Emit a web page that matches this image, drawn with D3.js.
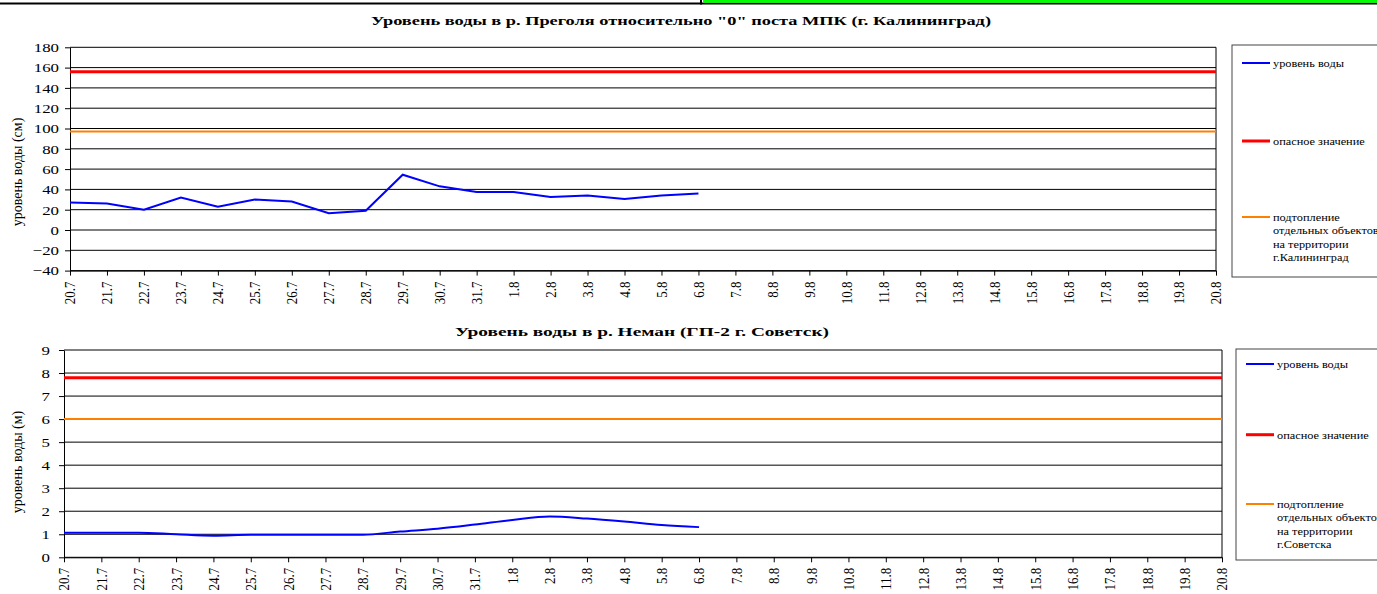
<!DOCTYPE html>
<html>
<head>
<meta charset="utf-8">
<script src="https://cdn.jsdelivr.net/npm/d3@7"></script>
<style>
  body { margin: 0; background: #fff; }
  svg { display: block; }
  svg text { font-family: "Liberation Serif", "Times New Roman", "DejaVu Serif", serif !important; fill: #000; }
</style>
</head>
<body>
<div id="chart"></div>
<script>
// Dates (categories)
var dates = ["20.7", "21.7", "22.7", "23.7", "24.7", "25.7", "26.7", "27.7", "28.7", "29.7",
    "30.7", "31.7", "1.8", "2.8", "3.8", "4.8", "5.8", "6.8", "7.8", "8.8", "9.8", "10.8",
    "11.8", "12.8", "13.8", "14.8", "15.8", "16.8", "17.8", "18.8", "19.8", "20.8"];

// Pregolya, Kaliningrad (cm)
var pregolyaLevel = [27, 26, 20, 32, 23, 30, 28, 16.5, 19, 54.5, 43, 37.5, 37.5, 32.5, 34, 30.5, 34, 36];
var pregolyaDanger = 156;
var pregolyaFlood = 97;
var pregolyaTicks = [-40, -20, 0, 20, 40, 60, 80, 100, 120, 140, 160, 180];

// Neman, Sovetsk (m)
var nemanLevel = [1.07, 1.07, 1.07, 1.0, 0.94, 0.98, 0.98, 0.98, 0.98, 1.12, 1.24, 1.42, 1.62, 1.77, 1.68, 1.55, 1.4, 1.31];
var nemanDanger = 7.8;
var nemanFlood = 6.0;
var nemanTicks = [0, 1, 2, 3, 4, 5, 6, 7, 8, 9];

var W = 1377, H = 594;
var sx = 1.25; // horizontal stretch of the original text
var serif = "'Liberation Serif', 'Times New Roman', serif";

var svg = d3.select("#chart")
    .append("svg")
    .attr("width", W)
    .attr("height", H)
    .style("font-family", serif);

// strip at the very top
svg.append("rect").attr("x", 0).attr("y", 2.5).attr("width", W).attr("height", 2).attr("fill", "#000");
svg.append("rect").attr("x", 703).attr("y", 0).attr("width", W - 703).attr("height", 2.8).attr("fill", "#00ff00");
svg.append("rect").attr("x", 700).attr("y", 0).attr("width", 2).attr("height", 4.5).attr("fill", "#000");

function drawChart(cfg) {
    var x = d3.scalePoint().domain(dates).range([cfg.left, cfg.right]);
    var y = d3.scaleLinear().domain([cfg.ticks[0], cfg.ticks[cfg.ticks.length - 1]])
        .range([cfg.bottom, cfg.top]);

    var g = svg.append("g");

    // title
    g.append("text")
        .attr("x", cfg.titleX)
        .attr("y", cfg.titleY)
        .attr("text-anchor", "middle")
        .attr("font-size", "13.5px")
        .attr("font-weight", "bold")
        .attr("textLength", cfg.titleW)
        .attr("lengthAdjust", "spacingAndGlyphs")
        .style("font-family", serif)
        .text(cfg.title);

    // gridlines
    g.selectAll(".grid")
        .data(cfg.ticks)
        .enter().append("line")
        .attr("x1", cfg.left)
        .attr("x2", cfg.right)
        .attr("y1", function (d) { return y(d); })
        .attr("y2", function (d) { return y(d); })
        .attr("stroke", "#000")
        .attr("stroke-width", 1);

    // right border
    g.append("line")
        .attr("x1", cfg.right).attr("x2", cfg.right)
        .attr("y1", cfg.top).attr("y2", cfg.bottom)
        .attr("stroke", "#000");

    // y axis
    var yAxis = g.append("g")
        .attr("transform", "translate(" + cfg.left + ",0)")
        .call(d3.axisLeft(y).tickValues(cfg.ticks).tickSize(5).tickPadding(cfg.yPad).tickSizeOuter(0));
    yAxis.attr("font-family", null);
    yAxis.select(".domain").attr("stroke", "#000");
    yAxis.selectAll("line").attr("stroke", "#000");
    yAxis.selectAll("text")
        .style("font-family", serif)
        .attr("font-size", "13.5px")
        .attr("x", -(5 + cfg.yPad) / sx)
        .attr("transform", "scale(" + sx + ",1)");

    // x axis
    var xAxis = g.append("g")
        .attr("transform", "translate(0," + cfg.bottom + ")")
        .call(d3.axisBottom(x).tickSize(5).tickSizeOuter(0));
    xAxis.attr("font-family", null);
    xAxis.select(".domain").attr("stroke", "#000");
    xAxis.selectAll("line").attr("stroke", "#000");
    xAxis.selectAll("text")
        .style("font-family", serif)
        .attr("font-size", "13px")
        .attr("text-anchor", "end")
        .attr("x", -cfg.xPad)
        .attr("y", 0)
        .attr("dy", "0.33em")
        .attr("transform", "scale(1.15,1) rotate(-90)");

    // y axis title
    g.append("text")
        .attr("transform", "translate(" + 22 + "," + cfg.yTitleY + ") rotate(-90)")
        .attr("text-anchor", "middle")
        .attr("font-size", "14px")
        .style("font-family", serif)
        .text(cfg.yTitle);

    // threshold lines
    g.append("line")
        .attr("x1", x(dates[0])).attr("x2", x(dates[dates.length - 1]))
        .attr("y1", y(cfg.flood)).attr("y2", y(cfg.flood))
        .attr("stroke", "#ff8000").attr("stroke-width", 2);
    g.append("line")
        .attr("x1", x(dates[0])).attr("x2", x(dates[dates.length - 1]))
        .attr("y1", y(cfg.danger)).attr("y2", y(cfg.danger))
        .attr("stroke", "#ff0000").attr("stroke-width", 3);

    // water level
    var line = d3.line()
        .x(function (d, i) { return x(dates[i]); })
        .y(function (d) { return y(d); })
        .curve(cfg.curve);
    g.append("path")
        .datum(cfg.values)
        .attr("d", line)
        .attr("fill", "none")
        .attr("stroke", "#0000ff")
        .attr("stroke-width", 2);

    // legend
    var lg = g.append("g");
    lg.append("rect")
        .attr("x", cfg.legX).attr("y", cfg.legTop)
        .attr("width", W - cfg.legX + 10).attr("height", cfg.legBottom - cfg.legTop)
        .attr("fill", "#fff").attr("stroke", "#444").attr("stroke-width", 1);

    var items = [
        { color: "#0000ff", w: 2, lines: ["уровень воды"], y: cfg.legY[0] },
        { color: "#ff0000", w: 3, lines: ["опасное значение"], y: cfg.legY[1] },
        { color: "#ff8000", w: 2, lines: ["подтопление", "отдельных объектов", "на территории", cfg.city], y: cfg.legY[2] }
    ];
    items.forEach(function (it) {
        lg.append("line")
            .attr("x1", cfg.legX + 10).attr("x2", cfg.legX + 38)
            .attr("y1", it.y).attr("y2", it.y)
            .attr("stroke", it.color).attr("stroke-width", it.w);
        it.lines.forEach(function (t, k) {
            lg.append("text")
                .attr("x", (cfg.legX + 41) / 1.12)
                .attr("y", it.y + k * 13.4)
                .attr("dy", "0.35em")
                .attr("font-size", "11px")
                .attr("transform", "scale(1.12,1)")
                .style("font-family", serif)
                .text(t);
        });
    });
}

drawChart({
    title: "Уровень воды в р. Преголя относительно \"0\" поста МПК (г. Калининград)",
    titleX: 681, titleY: 25, titleW: 620,
    left: 70, right: 1216, top: 47.3, bottom: 270.6,
    ticks: pregolyaTicks, yPad: 6, xPad: 11,
    yTitle: "уровень воды (см)", yTitleY: 172,
    values: pregolyaLevel, danger: pregolyaDanger, flood: pregolyaFlood,
    curve: d3.curveLinear,
    legX: 1232, legTop: 45, legBottom: 277, legY: [63, 141, 217],
    city: "г.Калининград"
});

drawChart({
    title: "Уровень воды в р. Неман (ГП-2 г. Советск)",
    titleX: 642, titleY: 336, titleW: 374,
    left: 64, right: 1222, top: 350, bottom: 557.3,
    ticks: nemanTicks, yPad: 9, xPad: 10.5,
    yTitle: "уровень воды (м)", yTitleY: 462,
    values: nemanLevel, danger: nemanDanger, flood: nemanFlood,
    curve: d3.curveMonotoneX,
    legX: 1236, legTop: 349, legBottom: 560, legY: [364, 434.7, 504],
    city: "г.Советска"
});
</script>
</body>
</html>
